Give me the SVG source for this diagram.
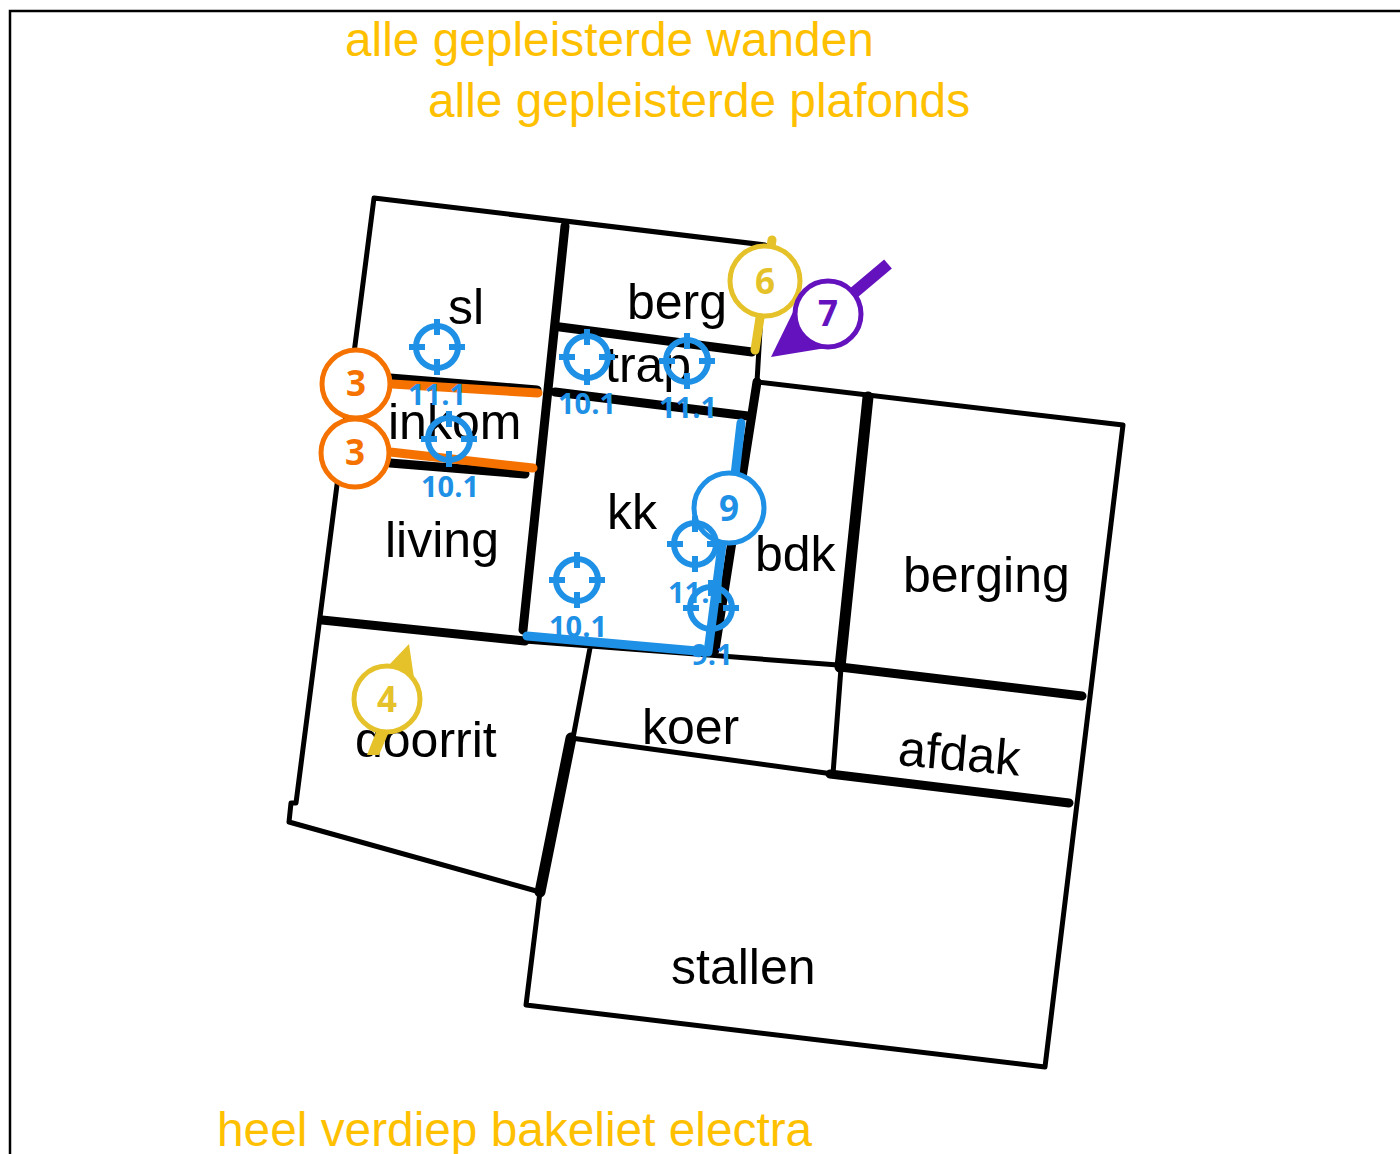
<svg xmlns="http://www.w3.org/2000/svg" width="1400" height="1154" viewBox="0 0 1400 1154">
<style>
.w{fill:none;stroke:#000;stroke-linecap:round;stroke-linejoin:round}
.t{stroke-width:5}.k{stroke-width:9}.x{stroke-width:11}
.r{font:50px "Liberation Sans",Arial,sans-serif;fill:#000;text-anchor:start}
.n{font:47.8px "Liberation Sans",Arial,sans-serif;fill:#FFC000}
.c{fill:#fff;stroke-width:5}
.m{font:700 35px "Open Sans",sans-serif;text-anchor:middle}
.l{font:700 29px "Open Sans",sans-serif;text-anchor:middle;fill:#1E90E5}
.b{fill:none;stroke:#1E90E5;stroke-width:6}
.bl{fill:none;stroke:#1E90E5;stroke-width:9;stroke-linecap:round;stroke-linejoin:round}
</style>
<defs>
<g id="ch"><circle r="21" class="b"/><path class="b" d="M0-28V-12M0 12V28M-28 0H-12M12 0H28"/></g>
</defs>
<g id="frame"><path d="M10 1154V11H1400" fill="none" stroke="#000" stroke-width="2.5"/></g>
<g id="walls">
<path class="w t" d="M765 245L374 198L296 803H291L289 822L540 892L526 1005L1045 1067L1123 425L757 382M765 245L757 382"/>
<path class="w t" d="M525 641L838 665M841 668L833 774L571 738M590 648L573 738"/>
<path class="w k" d="M565 226L523 630M322 620L525 641M560 327L752 352M555 392L748 416M390 378L537 390M390 463L525 474M757 382L715 650M840 667L1082 696M830 774L1069 803"/>
<path class="w x" d="M868 397L840 667M571 738L540 892"/>
</g>
<g id="rooms">
<text class="r" x="448" y="324">sl</text>
<text class="r" x="627" y="319">berg</text>
<text class="r" x="605" y="382">trap</text>
<text class="r" x="388" y="439">inkom</text>
<text class="r" x="607" y="529">kk</text>
<text class="r" x="385" y="557">living</text>
<text class="r" x="755" y="571">bdk</text>
<text class="r" x="903" y="592">berging</text>
<text class="r" x="355" y="757">doorrit</text>
<text class="r" x="642" y="744">koer</text>
<text class="r" transform="translate(897 765) rotate(5)">afdak</text>
<text class="r" x="671" y="984">stallen</text>
</g>
<g id="notes">
<text class="n" x="345" y="56">alle gepleisterde wanden</text>
<text class="n" x="428" y="117">alle gepleisterde plafonds</text>
<text class="n" x="217" y="1146">heel verdiep bakeliet electra</text>
</g>
<g id="connectors">
<path d="M392 384L538 393M390 452L533 468" fill="none" stroke="#F57200" stroke-width="9" stroke-linecap="round"/>
<path d="M772 240L755 350" fill="none" stroke="#E5C22A" stroke-width="9" stroke-linecap="round"/>
<path d="M888 264L850 296" fill="none" stroke="#6412BE" stroke-width="12"/>
<path d="M771 357L795 308L832 347Z" fill="#6412BE"/>
<path d="M409 644L388 666L414 678Z" fill="#E5C22A"/>
<path d="M378 727L367 755H379L391 727Z" fill="#E5C22A"/>
<path class="bl" d="M741 423L735 475M722 545L708 652L527 636"/>
</g>
<g id="marker-3a"><circle class="c" cx="356" cy="384" r="34" stroke="#F57200"/><text class="m" x="356" y="396" fill="#F57200">3</text></g>
<g id="marker-3b"><circle class="c" cx="355" cy="453" r="34" stroke="#F57200"/><text class="m" x="355" y="465" fill="#F57200">3</text></g>
<g id="marker-6"><circle class="c" cx="765" cy="281" r="35" stroke="#E5C22A"/><text class="m" x="765" y="294" fill="#E5C22A">6</text></g>
<g id="marker-7"><circle class="c" cx="828" cy="314" r="33" stroke="#6412BE"/><text class="m" x="828" y="326" fill="#6412BE">7</text></g>
<g id="marker-4"><circle class="c" cx="387" cy="699" r="33" stroke="#E5C22A"/><text class="m" x="387" y="712" fill="#E5C22A">4</text></g>
<g id="marker-9"><circle class="c" cx="729" cy="508" r="35" stroke="#1E90E5"/><text class="m" x="729" y="521" fill="#1E90E5">9</text></g>
<g id="t1"><use href="#ch" x="437" y="347"/><text class="l" x="437" y="405">11.1</text></g>
<g id="t2"><use href="#ch" x="587" y="357"/><text class="l" x="587" y="414">10.1</text></g>
<g id="t3"><use href="#ch" x="687" y="361"/><text class="l" x="688" y="418">11.1</text></g>
<g id="t4"><use href="#ch" x="449" y="439"/><text class="l" x="450" y="497">10.1</text></g>
<g id="t5"><use href="#ch" x="577" y="580"/><text class="l" x="578" y="637">10.1</text></g>
<g id="t6"><use href="#ch" x="695" y="544"/><text class="l" x="697" y="603">11.1</text></g>
<g id="t7"><use href="#ch" x="711" y="608"/><text class="l" x="712" y="665">9.1</text></g>
</svg>
